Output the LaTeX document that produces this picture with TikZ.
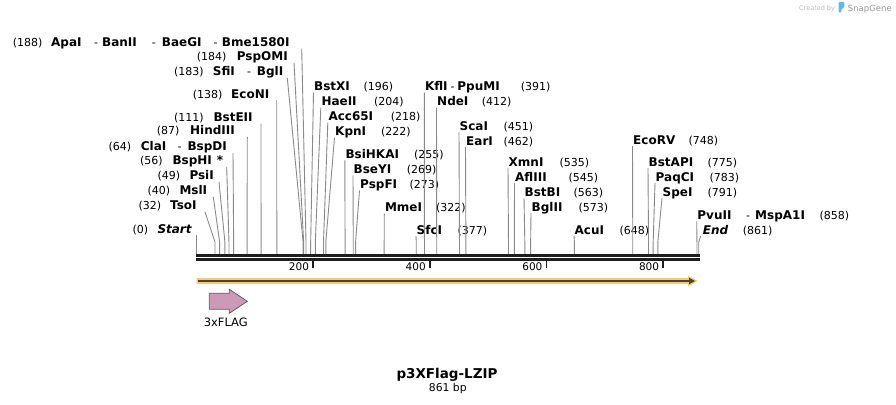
\documentclass[tikz,border=0pt]{standalone}
\usepackage{fontspec}
\setmainfont{DejaVu Sans}
\usetikzlibrary{arrows.meta}
\definecolor{leadc}{HTML}{8A8A8A}
\definecolor{axisc}{HTML}{1E1E1E}
\definecolor{orng}{HTML}{F9C870}
\definecolor{darkl}{HTML}{4A4338}
\definecolor{pinkf}{HTML}{CC9AB6}
\definecolor{outl}{HTML}{5A5A5A}
\definecolor{sgblue}{HTML}{62B8EA}
\definecolor{sggray}{HTML}{9A9A9A}
\definecolor{sglight}{HTML}{BDBDBD}
\newcommand\myfs[1]{\fontsize{#1}{#1}\selectfont}
\tikzset{
  lb/.style={font=\myfs{12}\bfseries, inner sep=0pt, anchor=base west},
  nm/.style={font=\myfs{11}, inner sep=0pt, anchor=base west},
  tk/.style={font=\myfs{10.5}, inner sep=0pt, anchor=base east},
  leader/.style={draw=leadc, line width=0.9pt},
  axisline/.style={draw=axisc},
}
\newcommand\cutl[4]{%
  \coordinate (#1t) at (#2,#3);
  \coordinate (#1m) at ({196.3+#4*0.5835},242);
  \coordinate (#1b) at ({196.3+#4*0.5835},253.9);
  \draw[leader] (#1t) -- (#1m) -- (#1b);}
\newcommand\rsite[7]{%
  \node[lb] (#1n) at (#4,#5) {#2};
  \node[nm] (#1p) at (#6,#5) {(#3)};
  \cutl{#1}{#4-0.5}{#5+2}{#7}}
\newcommand\lsite[8]{%
  \node[nm] (#1p) at (#3,#6) {(#2)};
  \node[lb] (#1n) at (#5,#6) {#4};
  \cutl{#1}{#7}{#6+2}{#8}}
\begin{document}
\begin{tikzpicture}[x=1pt,y=-1pt]
\fill[white] (0,0) rectangle (896,404);
\useasboundingbox (0,0) rectangle (896,404);

% left-side labels
\lsite{apa}{188}{12.7}{ApaI}{51}{46.7}{301.7}{188}
\node[nm] (apah1) at (94,46.7) {-};
\node[lb] (ban) at (102,46.7) {BanII};
\node[nm] (apah2) at (151.7,46.7) {-};
\node[lb] (bae) at (161.7,46.7) {BaeGI};
\node[nm] (apah3) at (213.3,46.7) {-};
\node[lb] (bme) at (221.7,46.7) {Bme1580I};
\lsite{pspo}{184}{196.7}{PspOMI}{236.7}{60.9}{294}{184}
\lsite{sfi}{183}{174}{SfiI}{212.7}{75.9}{287.3}{183}
\node[nm] (sfih) at (247,75.9) {-};
\node[lb] (bgl) at (256.7,75.9) {BglI};
\lsite{econi}{138}{192.7}{EcoNI}{231}{98.2}{276.7}{138}
\lsite{bste}{111}{174}{BstEII}{213.3}{121.5}{261}{111}
\lsite{hind}{87}{156.7}{HindIII}{190}{134.9}{247.3}{87}
\lsite{cla}{64}{108.3}{ClaI}{140.7}{150.9}{233}{64}
\node[nm] (clah) at (177.3,150.9) {-};
\node[lb] (bspd) at (187.3,150.9) {BspDI};
\lsite{bsph}{56}{140}{BspHI}{172.3}{164.9}{226.7}{56}
\node[lb] (bspst) at (216.7,164.9) {*};
\lsite{psi}{49}{157.3}{PsiI}{189.3}{179.9}{219}{49}
\lsite{msl}{40}{147.3}{MslI}{179.3}{194.9}{213.3}{40}
\lsite{tso}{32}{138.3}{TsoI}{170}{209.9}{205}{32}
\lsite{start}{0}{132.3}{\itshape Start}{157.3}{233.2}{196.3}{0}

% right-side labels
\rsite{bstx}{BstXI}{196}{314}{90.7}{363.3}{196}
\rsite{hae}{HaeII}{204}{321.3}{105.7}{374}{204}
\rsite{acc}{Acc65I}{218}{328.3}{120.7}{390.7}{218}
\rsite{kpn}{KpnI}{222}{335}{135.7}{381}{222}
\rsite{bsih}{BsiHKAI}{255}{345.3}{158.4}{414}{255}
\rsite{bsey}{BseYI}{269}{353.5}{173.4}{406.7}{269}
\rsite{pspf}{PspFI}{273}{360}{188.4}{409.3}{273}
\rsite{mme}{MmeI}{322}{384.8}{211.5}{436}{322}
\rsite{sfc}{SfcI}{377}{416.5}{234.1}{457.3}{377}
\node[lb] (kfln) at (424.8,90.7) {KflI};
\node[nm] (kflh) at (450.3,90.7) {-};
\node[lb] (ppun) at (457.2,90.7) {PpuMI};
\node[nm] (kflp) at (520.7,90.7) {(391)};
\cutl{kfl}{424.3}{92.7}{391}
\rsite{nde}{NdeI}{412}{437}{105.7}{481.7}{412}
\rsite{sca}{ScaI}{451}{459.5}{130}{503.3}{451}
\rsite{ear}{EarI}{462}{466}{145}{503.3}{462}
\rsite{xmn}{XmnI}{535}{508.5}{166}{559.3}{535}
\rsite{afl}{AflIII}{545}{515}{181}{568.3}{545}
\rsite{bstb}{BstBI}{563}{524.5}{196.2}{573.3}{563}
\rsite{bglii}{BglII}{573}{531.5}{211.2}{578.3}{573}
\rsite{acu}{AcuI}{648}{574.5}{234.1}{619.3}{648}
\rsite{ecorv}{EcoRV}{748}{633}{144}{688.3}{748}
\rsite{bstap}{BstAPI}{775}{648.5}{166}{707.3}{775}
\rsite{paq}{PaqCI}{783}{655.5}{181}{709.3}{783}
\rsite{spe}{SpeI}{791}{662.5}{196.2}{707.3}{791}
\node[lb] (pvun) at (697.2,219.4) {PvuII};
\node[nm] (pvuh) at (746,219.4) {-};
\node[lb] (mspn) at (755,219.4) {MspA1I};
\node[nm] (pvup) at (819.3,219.4) {(858)};
\cutl{pvu}{696.7}{221.4}{858}
\node[lb] (endn) at (702.7,234.1) {\itshape End};
\node[nm] (endp) at (742.7,234.1) {(861)};
\cutl{fin}{700.7}{236.1}{861}

% sequence axis
\coordinate (ax1a) at (196,255.5); \coordinate (ax1b) at (699.5,255.5);
\coordinate (ax2a) at (196,259.3); \coordinate (ax2b) at (699.5,259.3);
\draw[axisline, line width=2.5pt] (ax1a) -- (ax1b);
\draw[axisline, line width=2.4pt] (ax2a) -- (ax2b);
\foreach \v in {200,400,600,800}{
  \coordinate (tka\v) at ({196.3+\v*0.5835},260.5);
  \coordinate (tkb\v) at ({196.3+\v*0.5835},267.5);
  \draw[axisline, line width=1.6pt] (tka\v) -- (tkb\v);
  \node[tk] (tkl\v) at ({196.3+\v*0.5835-3.8},270.7) {\v};
}

% orange direction bar
\fill[orng] (196.7,278.2) -- (688,278.2) -- (688,275.6) -- (697.5,281) -- (688,286.4) -- (688,283.8) -- (196.7,283.8) -- cycle;
\coordinate (ora) at (197.5,281); \coordinate (orb) at (690,281);
\draw[darkl, line width=1.4pt] (ora) -- (orb);
\fill[darkl] (689,277.7) -- (695,281) -- (689,284.3) -- cycle;

% 3xFLAG feature
\draw[fill=pinkf, draw=outl, line width=0.8pt] (209.3,293.3) -- (229.3,293.3) -- (229.3,289.3) -- (247.3,301.3) -- (229.3,313.3) -- (229.3,309.2) -- (209.3,309.2) -- cycle;
\node[font=\myfs{11.5}, anchor=base, inner sep=0pt] (flaglab) at (225.8,326) {3xFLAG};

% title
\node[font=\myfs{13.5}\bfseries, anchor=base, inner sep=0pt] (title) at (447,378.3) {p3XFlag-LZIP};
\node[font=\myfs{10.8}, anchor=base, inner sep=0pt] (bplen) at (447.8,391.7) {861 bp};

% credit
\node[font=\myfs{6.5}, text=sglight, anchor=base west, inner sep=0pt] (credit) at (799,10.3) {Created by};
\fill[sgblue, rounded corners=1.2pt] (838.7,12.7) -- (838.7,1.8) -- (844.3,1.8) -- (844.3,7.6) -- (841.4,8.6) -- (841.4,12.7) -- cycle;
\node[font=\myfs{8.5}, text=sggray, anchor=base west, inner sep=0pt] (sgname) at (847.7,11.3) {SnapGene};
\end{tikzpicture}
\end{document}
